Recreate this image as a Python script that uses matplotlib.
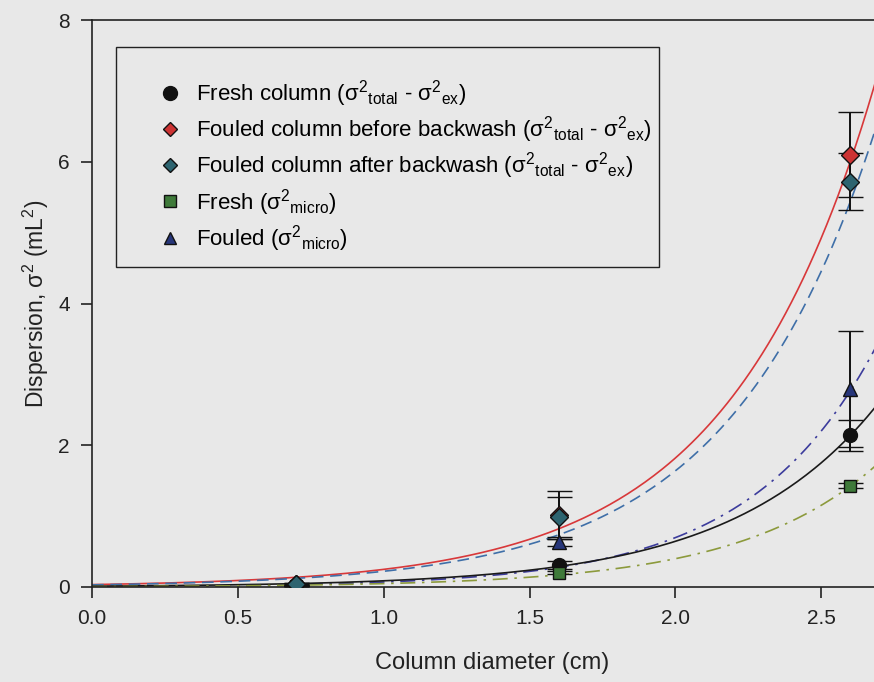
import matplotlib
matplotlib.use("Agg")
import matplotlib.pyplot as plt
from matplotlib.lines import Line2D
from matplotlib.patches import Rectangle
import numpy as np

plt.rcParams["font.family"] = ["Liberation Sans", "DejaVu Sans"]
plt.rcParams["mathtext.default"] = "regular"

# column diameters (cm)
diameter = [0.7, 1.6, 2.6]

# dispersion values (mL^2) and error bars
fresh = [0.03, 0.31, 2.14]
fresh_err = [0.01, 0.05, 0.22]
fouled_before = [0.04, 1.02, 6.10]
fouled_before_err = [0.01, 0.34, 0.60]
fouled_after = [0.04, 0.99, 5.72]
fouled_after_err = [0.01, 0.28, 0.40]
fresh_micro = [0.01, 0.20, 1.43]
fresh_micro_err = [0.0, 0.02, 0.04]
fouled_micro = [0.02, 0.63, 2.79]
fouled_micro_err = [0.0, 0.05, 0.82]

# exponential fits y = a * exp(b * d)
fit_fresh = (0.0118, 2.00)
fit_before = (0.034, 1.99)
fit_after = (0.030, 2.00)
fit_fresh_micro = (0.00575, 2.12)
fit_fouled_micro = (0.0070, 2.30)

labels = [
    r"Fresh column (σ$^{2}$$_{total}$ - σ$^{2}$$_{ex}$)",
    r"Fouled column before backwash (σ$^{2}$$_{total}$ - σ$^{2}$$_{ex}$)",
    r"Fouled column after backwash (σ$^{2}$$_{total}$ - σ$^{2}$$_{ex}$)",
    r"Fresh (σ$^{2}$$_{micro}$)",
    r"Fouled (σ$^{2}$$_{micro}$)",
]

bg = "#e8e8e8"
W, H = 874, 682
fig = plt.figure(figsize=(W / 100, H / 100), dpi=100, facecolor=bg)
ax = fig.add_axes([92 / W, 95 / H, 875 / W, 567 / H], facecolor=bg)

d = np.linspace(0, 3, 300)
curves = [
    (fit_before, "#d8383a", "-"),
    (fit_after, "#3f6fa8", (0, (7, 4))),
    (fit_fouled_micro, "#3c3c9c", (0, (9, 4, 1.5, 4))),
    (fit_fresh, "#1a1a1a", "-"),
    (fit_fresh_micro, "#8c9a3c", (0, (9, 4, 1.5, 4))),
]
for (a, b), color, ls in curves:
    ax.plot(d, a * np.exp(b * d), color=color, ls=ls, lw=1.2, zorder=2)

series = [
    (fresh, fresh_err, "o", "#111111", 10),
    (fresh_micro, fresh_micro_err, "s", "#3f7a3a", 9),
    (fouled_micro, fouled_micro_err, "^", "#27367a", 10),
    (fouled_before, fouled_before_err, "D", "#cc3333", 9),
    (fouled_after, fouled_after_err, "D", "#2d6470", 9),
]
for y, err, marker, color, ms in series:
    ax.errorbar(diameter, y, yerr=err, fmt=marker, ms=ms, mfc=color, mec="#111111",
                mew=1.0, ecolor="#111111", elinewidth=1.4, capsize=9, capthick=1.4,
                zorder=3)

# legend box
box = Rectangle((116 / W, 1 - 267 / H), (659 - 116) / W, (267 - 47) / H,
                transform=fig.transFigure, facecolor=bg, edgecolor="#222222",
                lw=1.0, zorder=5, clip_on=False)
ax.add_patch(box)

handles = [
    Line2D([], [], ls="", marker="o", ms=10, mfc="#111111", mec="#111111"),
    Line2D([], [], ls="", marker="D", ms=7.5, mfc="#cc3333", mec="#111111"),
    Line2D([], [], ls="", marker="D", ms=7.5, mfc="#2d6470", mec="#111111"),
    Line2D([], [], ls="", marker="s", ms=8, mfc="#3f7a3a", mec="#111111"),
    Line2D([], [], ls="", marker="^", ms=9, mfc="#27367a", mec="#111111"),
]
leg = ax.legend(handles, labels, loc="upper left",
                bbox_to_anchor=(152 / W, 1 - 78 / H), bbox_transform=fig.transFigure,
                borderaxespad=0, borderpad=0, fontsize=16, frameon=False,
                handletextpad=0.37, labelspacing=0.24, handlelength=1.6)
leg.set_zorder(6)

ax.set_xlim(0, 3)
ax.set_ylim(0, 8)
ax.set_xticks([0.0, 0.5, 1.0, 1.5, 2.0, 2.5])
ax.set_xticklabels(["0.0", "0.5", "1.0", "1.5", "2.0", "2.5"])
ax.set_yticks([0, 2, 4, 6, 8])
ax.tick_params(direction="out", length=8, width=1.2, labelsize=15, colors="#222222",
               pad=8)
for s in ["left", "bottom", "top"]:
    ax.spines[s].set_linewidth(1.2)
    ax.spines[s].set_color("#222222")
ax.spines["right"].set_visible(False)

ax.set_xlabel("Column diameter (cm)", fontsize=17, color="#222222")
ax.xaxis.set_label_coords((492 - 92) / 875, -0.115)
ax.set_ylabel(r"Dispersion, σ$^{2}$ (mL$^{2}$)", fontsize=16.5, color="#222222")
ax.yaxis.set_label_coords(-0.047, 0.5)

fig.savefig("out.png", dpi=100, facecolor=bg)
